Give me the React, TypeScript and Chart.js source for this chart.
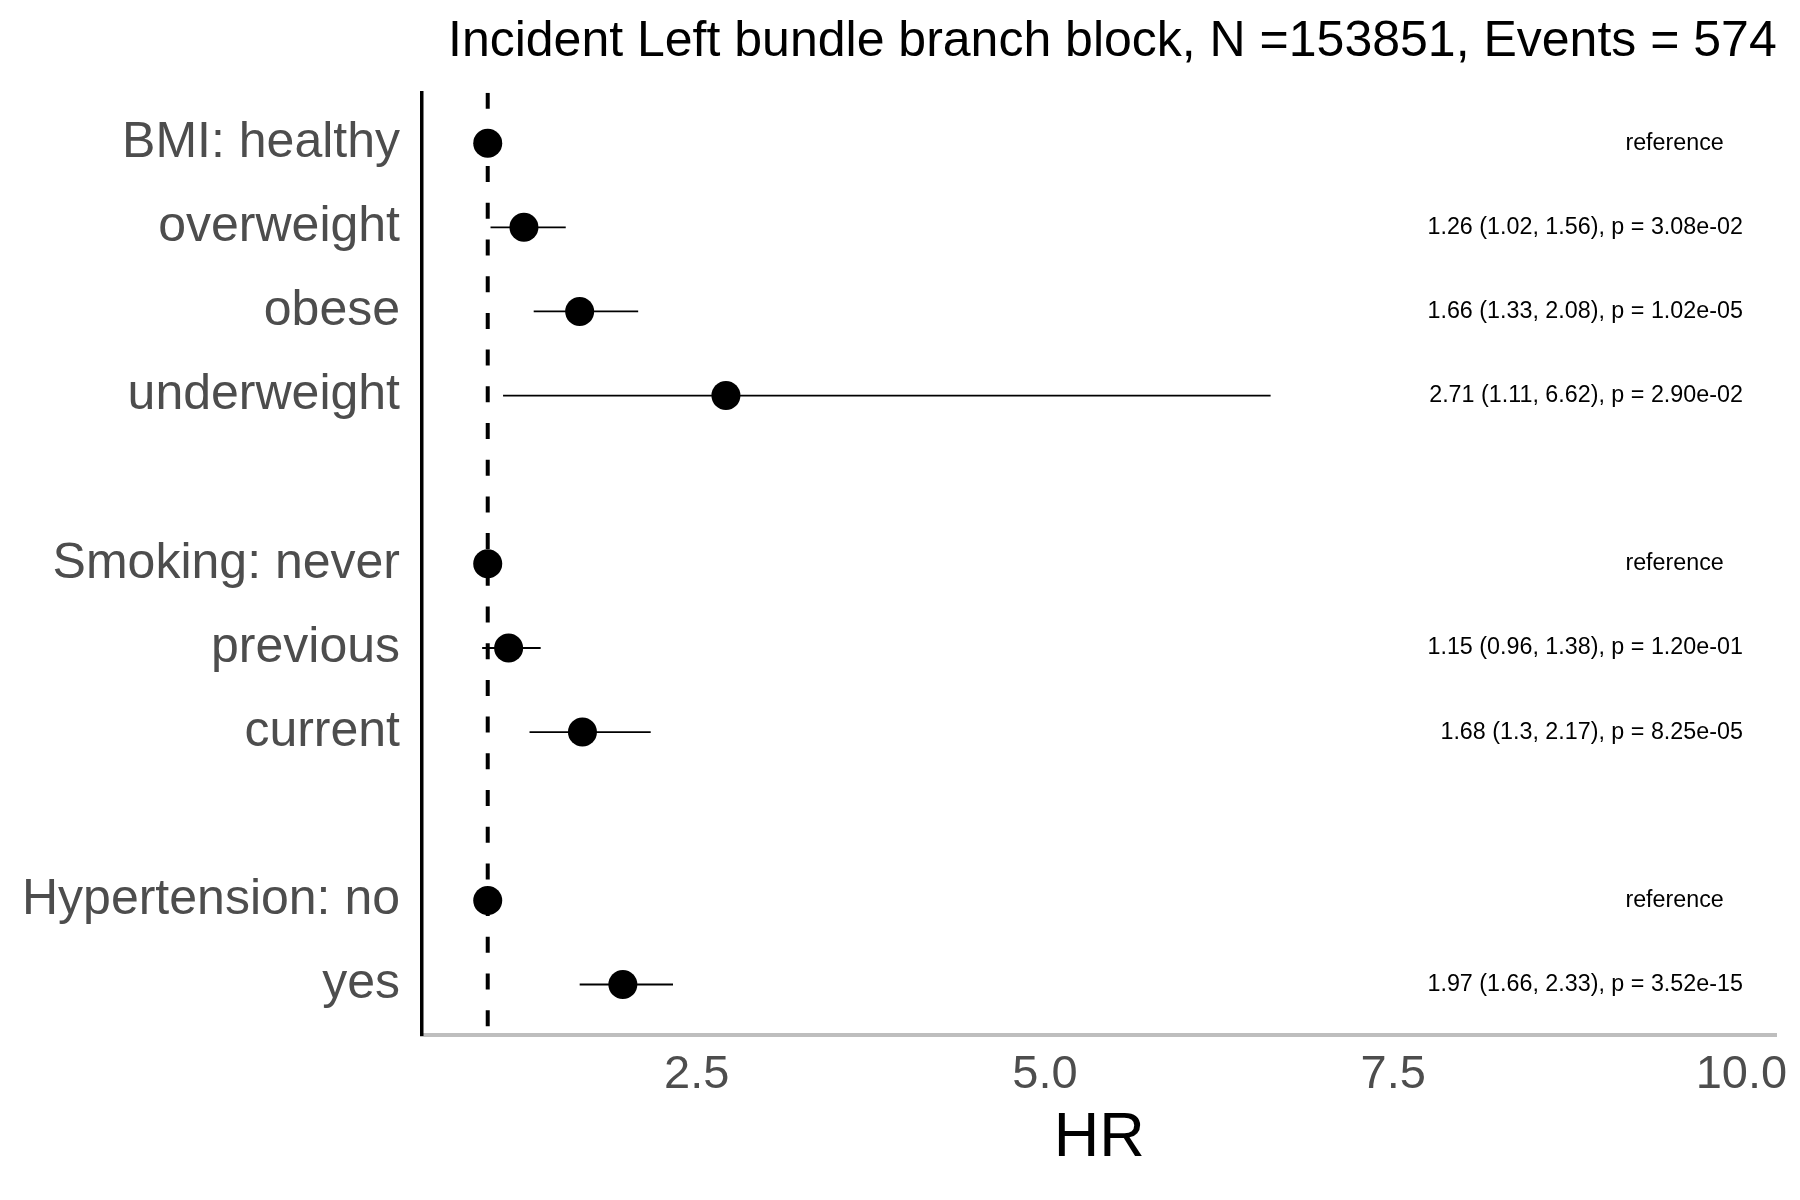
import React, { useEffect, useRef } from "react";
import { Chart, registerables } from "chart.js";

Chart.register(...registerables);

// ---------- data ----------
const TITLE = "Incident Left bundle branch block, N =153851, Events = 574";
const X_TITLE = "HR";
const rowLabels = [
  "BMI: healthy",
  "overweight",
  "obese",
  "underweight",
  "",
  "Smoking: never",
  "previous",
  "current",
  "",
  "Hypertension: no",
  "yes",
];
const hrValues = [1, 1.26, 1.66, 2.71, null, 1, 1.15, 1.68, null, 1, 1.97];
const ciLower = [null, 1.02, 1.33, 1.11, null, null, 0.96, 1.3, null, null, 1.66];
const ciUpper = [null, 1.56, 2.08, 6.62, null, null, 1.38, 2.17, null, null, 2.33];
const pValues = [null, "3.08e-02", "1.02e-05", "2.90e-02", null, null, "1.20e-01", "8.25e-05", null, null, "3.52e-15"];
const REFERENCE_TEXT = "reference";
const xTicks = [2.5, 5, 7.5, 10];
const REF_HR = 1;
const X_MIN = 0.526;
const X_MAX = 10.253;
const Y_MIN = -0.6;
const Y_MAX = 10.6;
const EST_LABEL_X = 10.01;
const REF_LABEL_X = 9.52;

const FONT = '"Liberation Sans", Arial, Helvetica, sans-serif';

function annotationFor(i: number): string | null {
  if (hrValues[i] == null) return null;
  if (ciLower[i] == null) return REFERENCE_TEXT;
  return `${hrValues[i]} (${ciLower[i]}, ${ciUpper[i]}), p = ${pValues[i]}`;
}

const rowTextPlugin = {
  id: "rowText",
  afterDatasetsDraw(chart: any) {
    const { ctx } = chart;
    const x = chart.scales.x;
    const y = chart.scales.y;
    ctx.save();
    ctx.font = `23.3px ${FONT}`;
    ctx.fillStyle = "#000";
    ctx.textBaseline = "middle";
    rowLabels.forEach((_, i) => {
      const text = annotationFor(i);
      if (!text) return;
      const isRef = ciLower[i] == null;
      ctx.textAlign = isRef ? "center" : "right";
      ctx.fillText(text, x.getPixelForValue(isRef ? REF_LABEL_X : EST_LABEL_X), y.getPixelForValue(i));
    });
    ctx.restore();
  },
};

export default function App() {
  const ref = useRef<HTMLCanvasElement>(null);

  useEffect(() => {
    const pointData: { x: number; y: number }[] = [];
    hrValues.forEach((v, i) => {
      if (v != null) pointData.push({ x: v, y: i });
    });

    const ciDatasets: any[] = [];
    ciLower.forEach((lo, i) => {
      const hi = ciUpper[i];
      if (lo == null || hi == null) return;
      ciDatasets.push({
        type: "line",
        data: [
          { x: lo, y: i },
          { x: hi, y: i },
        ],
        borderColor: "#000",
        borderWidth: 1.8,
        pointRadius: 0,
        fill: false,
        order: 1,
      });
    });

    const chart = new Chart(ref.current!, {
      type: "scatter",
      data: {
        datasets: [
          {
            type: "scatter",
            data: pointData,
            pointRadius: 14.5,
            pointBackgroundColor: "#000",
            pointBorderWidth: 0,
            order: 0,
          } as any,
          ...ciDatasets,
          {
            type: "line",
            data: [
              { x: REF_HR, y: Y_MIN },
              { x: REF_HR, y: Y_MAX },
            ],
            borderColor: "#000",
            borderWidth: 4,
            borderDash: [16, 20.7],
            pointRadius: 0,
            fill: false,
            order: 2,
          } as any,
        ],
      },
      options: {
        responsive: false,
        animation: false,
        events: [],
        layout: { padding: { left: 0, right: 23.3, top: 0, bottom: 0 } },
        plugins: {
          legend: { display: false },
          tooltip: { enabled: false },
          title: {
            display: true,
            text: TITLE,
            align: "end",
            color: "#000",
            font: { size: 50, family: FONT, weight: "normal" },
            padding: { top: 11.8, bottom: 20.9 },
          },
        },
        scales: {
          x: {
            type: "linear",
            min: X_MIN,
            max: X_MAX,
            afterBuildTicks: (s: any) => {
              s.ticks = xTicks.map((v) => ({ value: v }));
            },
            afterFit: (s: any) => {
              s.height = 165;
            },
            ticks: {
              callback: (v: any) => Number(v).toFixed(1),
              font: { size: 47, family: FONT },
              color: "#4D4D4D",
              padding: 11.5,
              maxRotation: 0,
              autoSkip: false,
            },
            grid: { display: false, drawTicks: false },
            border: { display: true, color: "#BEBEBE", width: 4 },
            title: {
              display: true,
              text: X_TITLE,
              color: "#000",
              font: { size: 63, family: FONT },
              padding: { top: 0, bottom: 23.5 },
            },
          },
          y: {
            type: "linear",
            reverse: true,
            min: Y_MIN,
            max: Y_MAX,
            afterBuildTicks: (s: any) => {
              s.ticks = rowLabels.map((_, i) => ({ value: i }));
            },
            afterFit: (s: any) => {
              s.width = 421.7;
            },
            ticks: {
              callback: (_v: any, index: number) => rowLabels[index] ?? "",
              font: { size: 50, family: FONT },
              color: "#4D4D4D",
              padding: 21.7,
              autoSkip: false,
            },
            grid: { display: false, drawTicks: false },
            border: { display: true, color: "#000", width: 3.5 },
          },
        },
      } as any,
      plugins: [rowTextPlugin],
    });
    return () => chart.destroy();
  }, []);

  return (
    <div style={{ position: "absolute", left: 0, top: 0, width: 1800, height: 1200, background: "#fff" }}>
      <canvas ref={ref} width={1800} height={1200} style={{ display: "block", width: 1800, height: 1200 }} />
    </div>
  );
}
